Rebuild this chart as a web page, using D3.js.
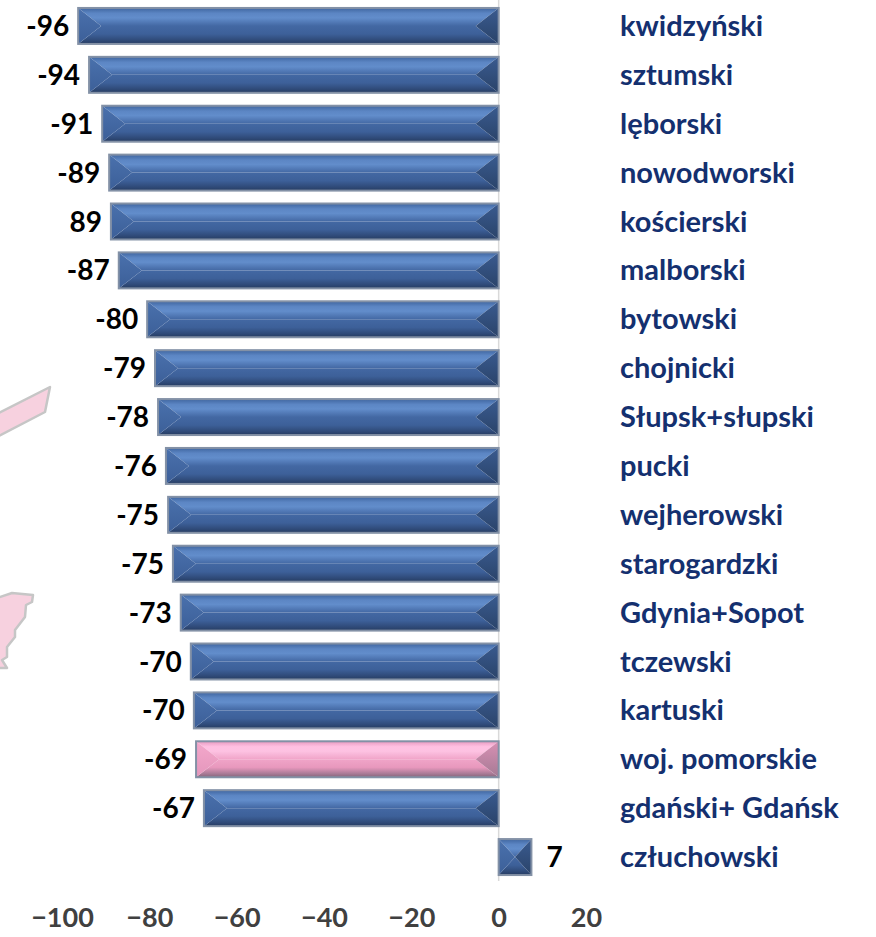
<!DOCTYPE html>
<html>
<head>
<meta charset="utf-8">
<script src="https://cdn.jsdelivr.net/npm/d3@7"></script>
<style>
  html, body { margin: 0; padding: 0; background: #fff; }
  svg { display: block; }
  text { font-family: Lato, "Open Sans", sans-serif; font-weight: 700; }
</style>
</head>
<body>
<div id="chart"></div>
<script>
var categories = ["kwidzyński", "sztumski", "lęborski", "nowodworski", "kościerski", "malborski",
  "bytowski", "chojnicki", "Słupsk+słupski", "pucki", "wejherowski", "starogardzki",
  "Gdynia+Sopot", "tczewski", "kartuski", "woj. pomorskie", "gdański+ Gdańsk", "człuchowski"];
var values = [-96.3, -93.8, -90.8, -89.2, -88.8, -87, -80.5, -78.7, -78, -76.2, -75.7, -74.6,
  -72.8, -70.5, -69.8, -69.3, -67.5, 7.5];
// printed labels, kościerski really is "89" without the minus
var valueLabels = ["-96", "-94", "-91", "-89", "89", "-87", "-80", "-79", "-78", "-76", "-75", "-75",
  "-73", "-70", "-70", "-69", "-67", "7"];
var highlighted = ["woj. pomorskie"];
var xTicks = [-100, -80, -60, -40, -20, 0, 20];

// faint map fragments behind the chart
var mapPieces = [
  [[-3, 414], [50, 387], [45, 412], [-3, 437]],
  [[-3, 598], [12, 593], [33, 595], [32, 602], [26, 605], [25, 617], [15, 630], [15, 637],
   [7, 647], [7, 657], [2, 660], [7, 668], [-3, 668]]
];

var svgWidth = 876;
var svgHeight = 937;

var rows = categories.map(function(c, i) {
  return { name: c, value: values[i], label: valueLabels[i] };
});

var svg = d3.select("#chart")
  .append("svg")
  .attr("width", svgWidth)
  .attr("height", svgHeight);

var xScale = d3.scaleLinear().domain([-100, 20]).range([62, 586]);
var yScale = d3.scaleBand().domain(categories).range([1.5, 881.5])
  .paddingInner(0.264).paddingOuter(0.132);

// Gradients for the bevel faces
var defs = svg.append("defs");
function addGradient(id, stops) {
  var g = defs.append("linearGradient").attr("id", id)
    .attr("x1", 0).attr("y1", 0).attr("x2", 0).attr("y2", 1);
  stops.forEach(function(s) {
    g.append("stop").attr("offset", s[0]).attr("stop-color", s[1]);
  });
}
addGradient("blueTop", [[0, "#3f659f"], [0.3, "#5c86c4"], [0.55, "#628dcb"], [1, "#4368a3"]]);
addGradient("blueBottom", [[0, "#4368a3"], [0.45, "#3d6099"], [0.8, "#2f4a78"], [1, "#263c61"]]);
addGradient("blueLeft", [[0, "#4a71ad"], [1, "#3c5f98"]]);
addGradient("blueRight", [[0, "#3a5b90"], [1, "#2a4369"]]);
addGradient("pinkTop", [[0, "#e79ac0"], [0.3, "#ffc0e2"], [0.55, "#fdc2e2"], [1, "#f0a4c8"]]);
addGradient("pinkBottom", [[0, "#f0a4c8"], [0.45, "#e898bd"], [0.8, "#a97a96"], [1, "#85657b"]]);
addGradient("pinkLeft", [[0, "#f4a8cc"], [1, "#e496bb"]]);
addGradient("pinkRight", [[0, "#d890b4"], [1, "#a57a94"]]);

svg.append("g").selectAll("polygon")
  .data(mapPieces)
  .enter()
  .append("polygon")
  .attr("points", function(d) { return d.join(" "); })
  .attr("fill", "#f7d1df")
  .attr("stroke", "#c6c6c6")
  .attr("stroke-width", 2.5)
  .attr("stroke-linejoin", "round");

// Zero line
svg.append("line")
  .attr("x1", xScale(0)).attr("x2", xScale(0))
  .attr("y1", 0).attr("y2", 881)
  .attr("stroke", "#d9d9d9")
  .attr("stroke-width", 1.5);

var bars = svg.append("g").selectAll("g")
  .data(rows)
  .enter()
  .append("g")
  .attr("transform", function(d) {
    return "translate(" + xScale(Math.min(d.value, 0)) + "," + yScale(d.name) + ")";
  });

function barWidth(d) { return Math.abs(xScale(d.value) - xScale(0)); }
function tone(d) { return highlighted.indexOf(d.name) >= 0 ? "pink" : "blue"; }

var barH = yScale.bandwidth();
var bevel = 23;

// one face of the bevel, each one a polygon inside the bar box
function face(d, side) {
  var w = barWidth(d);
  var b = Math.min(bevel, w / 2);
  var m = barH / 2;
  if (side === "Top") return [[0, 0], [w, 0], [w - b, m], [b, m]];
  if (side === "Bottom") return [[b, m], [w - b, m], [w, barH], [0, barH]];
  if (side === "Left") return [[0, 0], [b, m], [0, barH]];
  return [[w, 0], [w - b, m], [w, barH]];
}

["Top", "Bottom", "Left", "Right"].forEach(function(side) {
  bars.append("polygon")
    .attr("points", function(d) { return face(d, side).join(" "); })
    .attr("fill", function(d) { return "url(#" + tone(d) + side + ")"; });
});

bars.append("rect")
  .attr("width", barWidth)
  .attr("height", barH)
  .attr("fill", "none")
  .attr("stroke", "#8391a6")
  .attr("stroke-width", 2);

// Value labels
svg.append("g").selectAll("text")
  .data(rows)
  .enter()
  .append("text")
  .attr("x", function(d) { return d.value < 0 ? xScale(d.value) - 9 : xScale(d.value) + 15; })
  .attr("y", function(d) { return yScale(d.name) + barH / 2 + 10; })
  .attr("text-anchor", function(d) { return d.value < 0 ? "end" : "start"; })
  .attr("font-size", "28px")
  .attr("fill", "#000")
  .text(function(d) { return d.label; });

// Category names
svg.append("g").selectAll("text")
  .data(rows)
  .enter()
  .append("text")
  .attr("x", 620)
  .attr("y", function(d) { return yScale(d.name) + barH / 2 + 10; })
  .attr("font-size", "29px")
  .attr("fill", "#14306f")
  .text(function(d) { return d.name; });

// Bottom axis, labels only
var bottomAxis = d3.axisBottom(xScale).tickValues(xTicks).tickSize(0).tickPadding(0)
  .tickFormat(d3.format("d"));
var axisGroup = svg.append("g")
  .attr("transform", "translate(0, 908)")
  .call(bottomAxis);
axisGroup.select(".domain").remove();
axisGroup.selectAll("text")
  .attr("font-size", "27px")
  .attr("font-family", "Lato, 'Open Sans', sans-serif")
  .attr("fill", "#404040");
</script>
</body>
</html>
